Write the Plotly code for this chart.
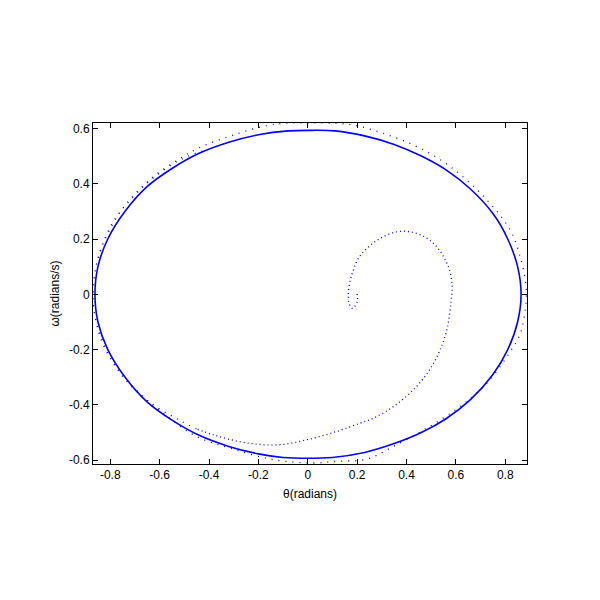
import plotly.graph_objects as go

# Limit cycle, clockwise, closed
cycle_theta = [-0.862, -0.85, -0.81, -0.74, -0.65, -0.55, -0.44, -0.32, -0.2, -0.08, 0.015, 0.11, 0.23,
               0.35, 0.46, 0.56, 0.66, 0.75, 0.81, 0.85, 0.864,
               0.85, 0.81, 0.75, 0.66, 0.56, 0.46, 0.35, 0.23, 0.1, 0.0, -0.1, -0.2, -0.32, -0.44,
               -0.55, -0.65, -0.74, -0.81, -0.85, -0.862]
cycle_omega = [0.0, 0.1, 0.2, 0.3, 0.39, 0.455, 0.51, 0.55, 0.577, 0.591, 0.593, 0.591, 0.573,
               0.542, 0.5, 0.45, 0.38, 0.292, 0.2, 0.1, 0.0,
               -0.1, -0.2, -0.29, -0.38, -0.45, -0.5, -0.54, -0.572, -0.59, -0.593, -0.59, -0.577, -0.55, -0.51,
               -0.455, -0.39, -0.3, -0.2, -0.1, 0.0]

# Transient spiral from the initial condition
spiral_theta = [0.200, 0.200, 0.181, 0.167, 0.164, 0.171, 0.185, 0.205, 0.239, 0.293, 0.361, 0.415, 0.469,
                0.516, 0.550, 0.574, 0.585, 0.580, 0.566, 0.536, 0.489, 0.428, 0.347, 0.266, 0.212, 0.117,
                -0.004, -0.113, -0.207, -0.302, -0.383, -0.451]
spiral_omega = [0.001, -0.027, -0.051, -0.033, -0.002, 0.046, 0.088, 0.130, 0.166, 0.202, 0.226, 0.226, 0.210,
                0.178, 0.136, 0.088, 0.027, -0.027, -0.117, -0.201, -0.279, -0.345, -0.406, -0.448, -0.466, -0.496,
                -0.526, -0.544, -0.542, -0.528, -0.508, -0.487]

# Outer transient loops converging onto the limit cycle
outer_theta = [-0.451, -0.52, -0.64, -0.76, -0.83, -0.867, -0.865, -0.85, -0.81, -0.75, -0.64, -0.52, -0.437,
               -0.302, -0.167, -0.099, 0.0, 0.117, 0.198, 0.306, 0.442, 0.577, 0.712, 0.820, 0.865, 0.884,
               0.884, 0.861, 0.807, 0.726, 0.617, 0.482, 0.347, 0.239, 0.117, 0.022, -0.14, -0.316, -0.451,
               -0.586, -0.701, -0.78, -0.835, -0.865, -0.87, -0.862, -0.835, -0.79, -0.73, -0.64, -0.52, -0.42]
outer_omega = [-0.487, -0.455, -0.39, -0.28, -0.18, -0.05, 0.05, 0.13, 0.22, 0.31, 0.415, 0.49, 0.531,
               0.576, 0.610, 0.618, 0.620, 0.618, 0.610, 0.582, 0.534, 0.462, 0.354, 0.232, 0.12, 0.03,
               -0.03, -0.141, -0.225, -0.321, -0.406, -0.484, -0.550, -0.596, -0.604, -0.610, -0.598, -0.556, -0.514,
               -0.430, -0.345, -0.26, -0.16, -0.06, 0.0, 0.08, 0.17, 0.26, 0.33, 0.41, 0.485, 0.52]

x_ticks = [-0.8, -0.6, -0.4, -0.2, 0, 0.2, 0.4, 0.6, 0.8]
x_labels = ["-0.8", "-0.6", "-0.4", "-0.2", "0", "0.2", "0.4", "0.6", "0.8"]
y_ticks = [-0.6, -0.4, -0.2, 0, 0.2, 0.4, 0.6]
y_labels = ["-0.6", "-0.4", "-0.2", "0", "0.2", "0.4", "0.6"]

blue = "#0000FF"
fig = go.Figure()
fig.add_trace(go.Scatter(x=cycle_theta, y=cycle_omega, mode="lines",
                         line=dict(color=blue, width=1.6, shape="spline", smoothing=1.0),
                         showlegend=False, hoverinfo="skip"))
fig.add_trace(go.Scatter(x=spiral_theta, y=spiral_omega, mode="lines",
                         line=dict(color=blue, width=1.3, shape="spline", smoothing=1.0, dash="1px,3px"),
                         showlegend=False, hoverinfo="skip"))
fig.add_trace(go.Scatter(x=outer_theta, y=outer_omega, mode="lines",
                         line=dict(color=blue, width=1.3, shape="spline", smoothing=1.0, dash="1px,6px"),
                         showlegend=False, hoverinfo="skip"))

axis_common = dict(showline=True, linecolor="black", linewidth=1, mirror="ticks", ticks="inside",
                   ticklen=5, tickcolor="black", showgrid=False, zeroline=False,
                   tickfont=dict(family="Liberation Sans, Arial", size=12, color="black"))
fig.update_layout(
    width=600, height=600,
    margin=dict(l=85, r=81, t=115, b=144),
    paper_bgcolor="white", plot_bgcolor="white",
    xaxis=dict(range=[-0.870, 0.888], tickvals=x_ticks, ticktext=x_labels,
               title=dict(text="θ(radians)", standoff=8,
                          font=dict(family="Liberation Sans, Arial", size=12, color="black")),
               **axis_common),
    yaxis=dict(range=[-0.6137, 0.6195], tickvals=y_ticks, ticktext=y_labels,
               title=dict(text="ω(radians/s)", standoff=6,
                          font=dict(family="Liberation Sans, Arial", size=12, color="black")),
               **axis_common),
)
fig.write_html("out.html")
